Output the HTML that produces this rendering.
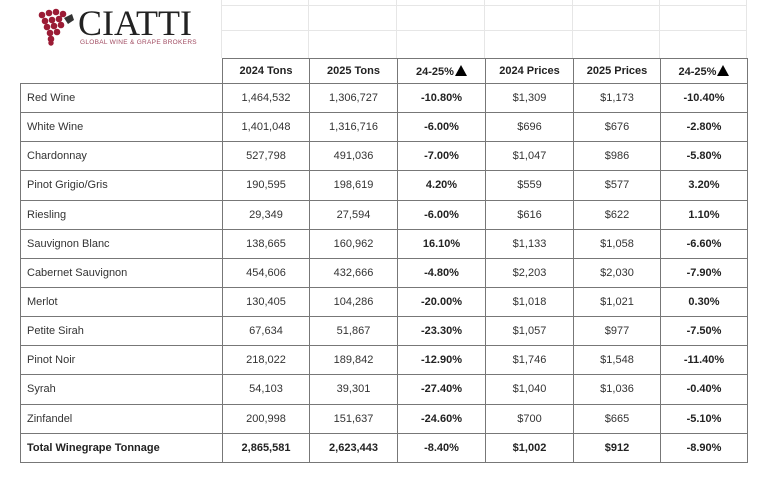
<!DOCTYPE html>
<html><head><meta charset="utf-8"><style>
body{margin:0;width:768px;height:477px;background:#fff;position:relative;overflow:hidden;font-family:"Liberation Sans",sans-serif;color:#222}
.v{position:absolute;width:1px;background:#e6e6e6}
.h{position:absolute;height:1px;background:#e6e6e6}
table{position:absolute;left:20px;top:58px;border-collapse:collapse;font-size:11px}
td{border:1px solid #777;height:28.15px;padding:0;text-align:center;color:#333}
td:first-child{text-align:left;padding-left:6px;width:195px}
tr:first-child td{height:24px;font-weight:bold;color:#222}
tr:first-child td:first-child{border-top:none;border-left:none}
td.b{font-weight:bold;color:#222}
tr.t td{font-weight:bold;color:#222}
.tri{display:inline-block;width:0;height:0;border-left:6px solid transparent;border-right:6px solid transparent;border-bottom:11px solid #000;vertical-align:-1px;margin-left:1px}
</style></head><body>
<div class="h" style="left:221px;top:5px;width:525px"></div>
<div class="h" style="left:221px;top:30px;width:525px"></div>
<div class="v" style="left:221px;top:0;height:58px"></div>
<div class="v" style="left:308px;top:0;height:58px"></div>
<div class="v" style="left:396px;top:0;height:58px"></div>
<div class="v" style="left:484px;top:0;height:58px"></div>
<div class="v" style="left:572px;top:0;height:58px"></div>
<div class="v" style="left:659px;top:0;height:58px"></div>
<div class="v" style="left:746px;top:0;height:58px"></div>
<svg style="position:absolute;left:38px;top:8px" width="40" height="38">
<g fill="#9b1b35">
<circle cx="4" cy="7" r="3.3"/><circle cx="11" cy="5" r="3.3"/><circle cx="18" cy="4" r="3.3"/><circle cx="25" cy="6" r="3.3"/>
<circle cx="7" cy="13" r="3.3"/><circle cx="14" cy="12" r="3.3"/><circle cx="21" cy="11" r="3.3"/>
<circle cx="9" cy="19" r="3.3"/><circle cx="16" cy="18" r="3.3"/><circle cx="23" cy="17" r="3.3"/>
<circle cx="12" cy="25" r="3.3"/><circle cx="19" cy="24" r="3.3"/>
<circle cx="13" cy="31" r="3.3"/><circle cx="13" cy="35" r="2.7"/></g>
<path d="M26 10 L34 6 L36 12 L30 16 Z" fill="#333"/></svg>
<div style="position:absolute;left:78px;top:2px;font-family:'Liberation Serif',serif;font-size:36px;letter-spacing:0px;color:#222">CIATTI</div>
<div style="position:absolute;left:80px;top:39px;font-size:6.5px;color:#a04a60;letter-spacing:.3px">GLOBAL WINE &amp; GRAPE BROKERS</div>
<table>
<col style="width:201px"><col style="width:87px"><col style="width:88px"><col style="width:88px"><col style="width:88px"><col style="width:87px"><col style="width:87px">
<tr><td></td><td>2024 Tons</td><td>2025 Tons</td><td>24-25%<span class="tri"></span></td><td>2024 Prices</td><td>2025 Prices</td><td>24-25%<span class="tri"></span></td></tr>
<tr><td>Red Wine</td><td>1,464,532</td><td>1,306,727</td><td class="b">-10.80%</td><td>$1,309</td><td>$1,173</td><td class="b">-10.40%</td></tr>
<tr><td>White Wine</td><td>1,401,048</td><td>1,316,716</td><td class="b">-6.00%</td><td>$696</td><td>$676</td><td class="b">-2.80%</td></tr>
<tr><td>Chardonnay</td><td>527,798</td><td>491,036</td><td class="b">-7.00%</td><td>$1,047</td><td>$986</td><td class="b">-5.80%</td></tr>
<tr><td>Pinot Grigio/Gris</td><td>190,595</td><td>198,619</td><td class="b">4.20%</td><td>$559</td><td>$577</td><td class="b">3.20%</td></tr>
<tr><td>Riesling</td><td>29,349</td><td>27,594</td><td class="b">-6.00%</td><td>$616</td><td>$622</td><td class="b">1.10%</td></tr>
<tr><td>Sauvignon Blanc</td><td>138,665</td><td>160,962</td><td class="b">16.10%</td><td>$1,133</td><td>$1,058</td><td class="b">-6.60%</td></tr>
<tr><td>Cabernet Sauvignon</td><td>454,606</td><td>432,666</td><td class="b">-4.80%</td><td>$2,203</td><td>$2,030</td><td class="b">-7.90%</td></tr>
<tr><td>Merlot</td><td>130,405</td><td>104,286</td><td class="b">-20.00%</td><td>$1,018</td><td>$1,021</td><td class="b">0.30%</td></tr>
<tr><td>Petite Sirah</td><td>67,634</td><td>51,867</td><td class="b">-23.30%</td><td>$1,057</td><td>$977</td><td class="b">-7.50%</td></tr>
<tr><td>Pinot Noir</td><td>218,022</td><td>189,842</td><td class="b">-12.90%</td><td>$1,746</td><td>$1,548</td><td class="b">-11.40%</td></tr>
<tr><td>Syrah</td><td>54,103</td><td>39,301</td><td class="b">-27.40%</td><td>$1,040</td><td>$1,036</td><td class="b">-0.40%</td></tr>
<tr><td>Zinfandel</td><td>200,998</td><td>151,637</td><td class="b">-24.60%</td><td>$700</td><td>$665</td><td class="b">-5.10%</td></tr>
<tr class="t"><td>Total Winegrape Tonnage</td><td>2,865,581</td><td>2,623,443</td><td>-8.40%</td><td>$1,002</td><td>$912</td><td>-8.90%</td></tr>
</table>
</body></html>
